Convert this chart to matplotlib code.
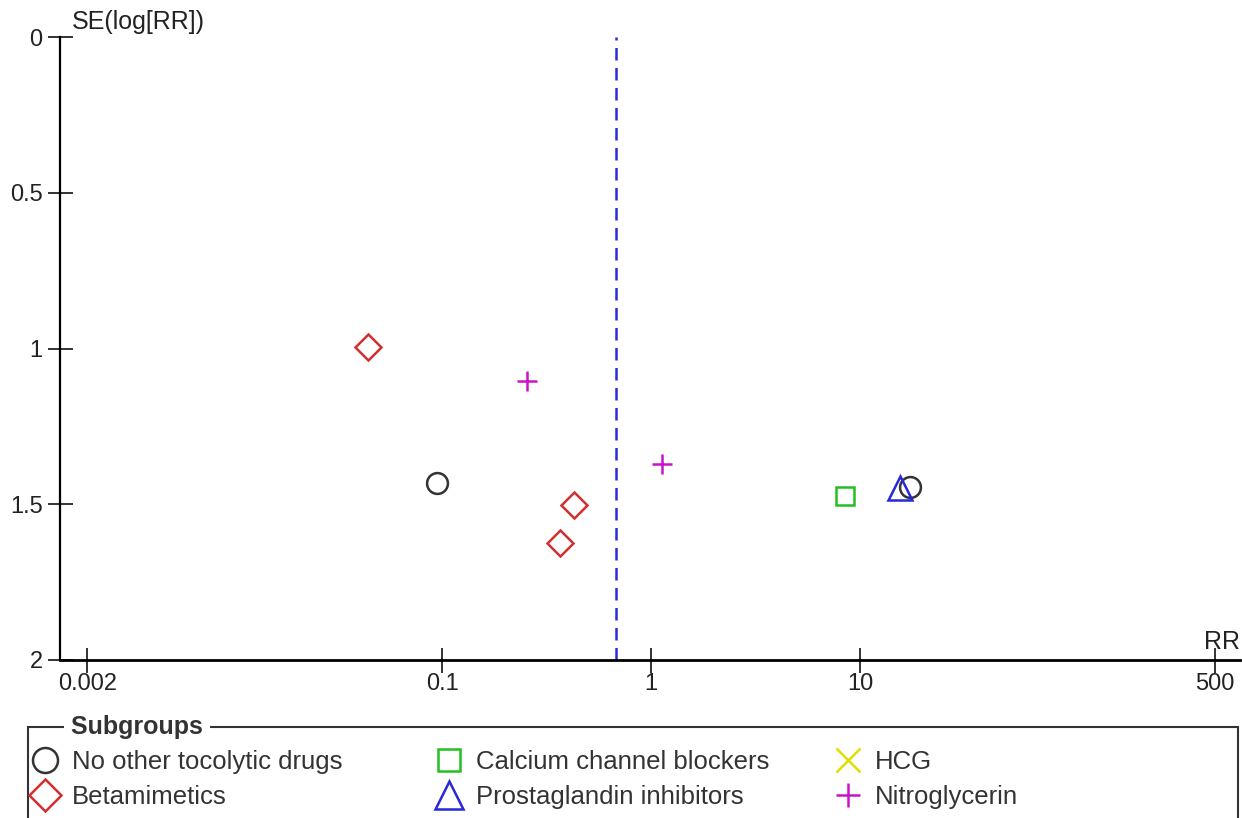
import numpy as np
import matplotlib.pyplot as plt
from matplotlib.patches import Rectangle

plt.rcParams["font.family"] = ["Liberation Sans", "DejaVu Sans"]
plt.rcParams["font.size"] = 16

# funnel plot data: risk ratio and SE(log RR) per study, by subgroup
groups = [
    "No other tocolytic drugs",
    "Betamimetics",
    "Calcium channel blockers",
    "Prostaglandin inhibitors",
    "HCG",
    "Nitroglycerin",
]
rr = {
    "No other tocolytic drugs": [0.094, 17.3],
    "Betamimetics": [0.044, 0.43, 0.367],
    "Calcium channel blockers": [8.5],
    "Prostaglandin inhibitors": [15.5],
    "HCG": [],
    "Nitroglycerin": [0.255, 1.13],
}
se = {
    "No other tocolytic drugs": [1.432, 1.445],
    "Betamimetics": [0.995, 1.502, 1.624],
    "Calcium channel blockers": [1.473],
    "Prostaglandin inhibitors": [1.448],
    "HCG": [],
    "Nitroglycerin": [1.104, 1.371],
}
pooled_rr = 0.68

x_ticks = [0.002, 0.1, 1, 10, 500]
x_ticklabels = ["0.002", "0.1", "1", "10", "500"]
y_ticks = [0, 0.5, 1, 1.5, 2]
y_ticklabels = ["0", "0.5", "1", "1.5", "2"]

STYLE = {
    "No other tocolytic drugs": dict(marker="o", color="#333333", ms=15),
    "Betamimetics": dict(marker="D", color="#d03030", ms=13.5),
    "Calcium channel blockers": dict(marker="s", color="#22c022", ms=13),
    "Prostaglandin inhibitors": dict(marker="^", color="#2828d8", ms=17),
    "HCG": dict(marker="x", color="#e0e000", ms=14),
    "Nitroglycerin": dict(marker="+", color="#cc11cc", ms=14),
}

W, H = 1242, 818
fig = plt.figure(figsize=(W / 100, H / 100), dpi=100)
ax = fig.add_axes([60 / W, 158 / H, 1180 / W, 623 / H])

handles = {}
for g in groups:
    st = STYLE[g]
    (h,) = ax.plot(rr[g], se[g], linestyle="none", marker=st["marker"],
                   ms=st["ms"], mfc="none", mec=st["color"], mew=1.8,
                   color=st["color"])
    handles[g] = h

ax.axvline(pooled_rr, color="#2b2bd9", linestyle=(0, (5, 3)), linewidth=1.8)

ax.set_xscale("log")
ax.set_xlim(10 ** -2.83, 10 ** 2.82)
ax.set_ylim(2, 0)
ax.set_xticks(x_ticks)
ax.set_xticklabels(x_ticklabels)
ax.minorticks_off()
ax.set_yticks(y_ticks)
ax.set_yticklabels(y_ticklabels)

for s in ["top", "right"]:
    ax.spines[s].set_visible(False)
ax.spines["left"].set_linewidth(1.6)
ax.spines["bottom"].set_linewidth(2)
ax.tick_params(axis="both", direction="inout", length=18, width=1.3,
               labelsize=17, colors="#222222")
ax.tick_params(axis="x", pad=0)

ax.text(0.01, 1.005, "SE(log[RR])", transform=ax.transAxes,
        ha="left", va="bottom", fontsize=18, color="#222222")
ax.text(1.0, 0.01, "RR", transform=ax.transAxes,
        ha="right", va="bottom", fontsize=18, color="#222222")

# legend box with title sitting on its border
box = Rectangle((28 / W, -0.05), 1210 / W, (818 - 727) / H + 0.05,
                transform=fig.transFigure, fill=False, edgecolor="#333333",
                linewidth=1.5, clip_on=False)
fig.patches.append(box)
fig.text(64 / W, 1 - 727 / H, " Subgroups ", ha="left", va="center",
         fontsize=18, fontweight="bold", color="#333333",
         bbox=dict(facecolor="white", edgecolor="none", pad=0))

cols = [groups[0:2], groups[2:4], groups[4:6]]
col_x = [19, 423, 822]
for names, cx in zip(cols, col_x):
    fig.legend([handles[n] for n in names], names, loc="upper left",
               bbox_to_anchor=(cx / W, 1 - 737 / H), frameon=False,
               handlelength=1.0, handletextpad=0.55, borderpad=0,
               labelspacing=0.42, fontsize=18.5, markerscale=1.2,
               labelcolor="#333333")

fig.savefig("out.png", dpi=100)
